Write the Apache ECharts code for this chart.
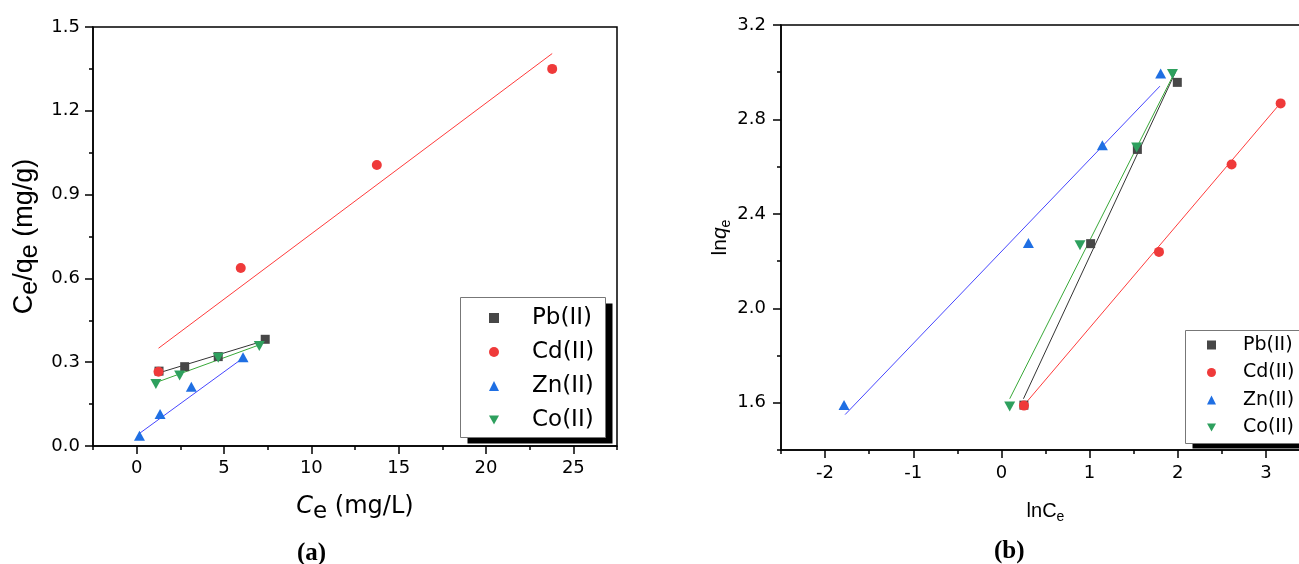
<!DOCTYPE html>
<html>
<head>
<meta charset="utf-8">
<title>Langmuir and Freundlich isotherm fits</title>
<script src="https://cdn.jsdelivr.net/npm/echarts@6/dist/echarts.min.js"></script>
<style>
  html, body { margin: 0; padding: 0; background: #fff; }
  #chart { width: 1299px; height: 564px; }
</style>
</head>
<body>
<div id="chart"></div>
<script>
// Metal ions shown in both panels
const ions = ['Pb(II)', 'Cd(II)', 'Zn(II)', 'Co(II)'];

// Panel (a): Ce (mg/L) against Ce/qe
const pbCe = [1.28, 2.75, 4.67, 7.36];
const pbCeQe = [0.268, 0.284, 0.320, 0.382];
const cdCe = [1.25, 5.96, 13.75, 23.79];
const cdCeQe = [0.266, 0.637, 1.006, 1.350];
const znCe = [0.16, 1.34, 3.13, 6.09];
const znCeQe = [0.037, 0.115, 0.212, 0.318];
const coCe = [1.10, 2.46, 4.67, 7.02];
const coCeQe = [0.222, 0.252, 0.316, 0.358];

// Panel (a) fitted lines: [x0, y0, x1, y1]
const pbFitA = [1.28, 0.262, 7.36, 0.378];
const cdFitA = [1.25, 0.350, 23.79, 1.405];
const znFitA = [0.16, 0.045, 6.09, 0.315];
const coFitA = [1.10, 0.227, 7.02, 0.362];

// Panel (b): lnCe against lnqe
const pbLnCe = [0.255, 1.012, 1.542, 1.995];
const pbLnQe = [1.590, 2.274, 2.673, 2.957];
const cdLnCe = [0.256, 1.787, 2.611, 3.167];
const cdLnQe = [1.588, 2.239, 2.609, 2.868];
const znLnCe = [-1.785, 0.306, 1.145, 1.806];
const znLnQe = [1.591, 2.277, 2.691, 2.995];
const coLnCe = [0.094, 0.891, 1.534, 1.940];
const coLnQe = [1.584, 2.267, 2.681, 2.992];

// Panel (b) fitted lines: [x0, y0, x1, y1]
const pbFitB = [0.250, 1.617, 1.976, 3.002];
const cdFitB = [0.256, 1.590, 3.167, 2.870];
const znFitB = [-1.773, 1.550, 1.798, 2.941];
const coFitB = [0.094, 1.617, 1.950, 2.988];

// Tick positions
const ticksAX = [0, 5, 10, 15, 20, 25];
const minorAX = [-2.5, 2.5, 7.5, 12.5, 17.5, 22.5, 27.5];
const ticksAY = [0, 0.3, 0.6, 0.9, 1.2, 1.5];
const minorAY = [0.15, 0.45, 0.75, 1.05, 1.35];
const ticksBX = [-2, -1, 0, 1, 2, 3];
const minorBX = [-2.5, -1.5, -0.5, 0.5, 1.5, 2.5, 3.5];
const ticksBY = [1.6, 2.0, 2.4, 2.8, 3.2];
const minorBY = [1.4, 1.8, 2.2, 2.6, 3.0];

const markerColors = ['#474747', '#ef3a3a', '#1f6fe3', '#2ea05e'];
const lineColors = ['#333333', '#ff3b3b', '#4646ff', '#38a838'];
const symbols = ['rect', 'circle', 'triangle', 'path://M0,0 L10,0 L5,9 Z'];
const symbolSizes = [9, 10, [11, 10], [11, 10]];

const FONT = '"Liberation Sans", Arial, sans-serif';
const WIDE = '"DejaVu Sans", Verdana, sans-serif';
const axisStroke = { color: '#000', width: 1.5 };

function pts(xs, ys) { return xs.map((x, i) => [x, ys[i]]); }
function seg(f) { return [[f[0], f[1]], [f[2], f[3]]]; }

function mainAxis(grid, min, max, ticks, fmt, margin, extra) {
  return Object.assign({
    type: 'value', gridIndex: grid, min: min, max: max,
    axisLine: { show: true, onZero: false, lineStyle: axisStroke },
    axisTick: { show: true, customValues: ticks, length: 8, lineStyle: axisStroke },
    axisLabel: { customValues: ticks, formatter: fmt, margin: margin, fontSize: 18, color: '#000', fontFamily: WIDE },
    splitLine: { show: false }
  }, extra);
}
function minorAxis(grid, min, max, ticks, extra) {
  return Object.assign({
    type: 'value', gridIndex: grid, min: min, max: max,
    axisLine: { show: false, onZero: false },
    axisTick: { show: true, customValues: ticks, length: 4, lineStyle: axisStroke },
    axisLabel: { show: false },
    splitLine: { show: false }
  }, extra);
}

const oneDecimal = v => v.toFixed(1);
const integer = v => String(Math.round(v));

const series = [];
const fitsA = [pbFitA, cdFitA, znFitA, coFitA];
const fitsB = [pbFitB, cdFitB, znFitB, coFitB];
const dataA = [pts(pbCe, pbCeQe), pts(cdCe, cdCeQe), pts(znCe, znCeQe), pts(coCe, coCeQe)];
const dataB = [pts(pbLnCe, pbLnQe), pts(cdLnCe, cdLnQe), pts(znLnCe, znLnQe), pts(coLnCe, coLnQe)];

// fitted lines first so the markers sit on top
[[fitsA, 0], [fitsB, 2]].forEach(([fits, ax]) => {
  fits.forEach((f, i) => {
    series.push({
      type: 'line', name: ions[i] + ' fit', xAxisIndex: ax, yAxisIndex: ax,
      data: seg(f), showSymbol: false, symbol: 'none', silent: true,
      lineStyle: { color: lineColors[i], width: 1 }, z: 2
    });
  });
});
[[dataA, 0], [dataB, 2]].forEach(([sets, ax]) => {
  sets.forEach((d, i) => {
    series.push({
      type: 'scatter', name: ions[i], xAxisIndex: ax, yAxisIndex: ax,
      data: d, symbol: symbols[i], symbolSize: symbolSizes[i],
      itemStyle: { color: markerColors[i], opacity: 1 }, z: 3
    });
  });
});

const legendBase = {
  orient: 'vertical', data: ions,
  backgroundColor: 'transparent', borderWidth: 0,
  selectedMode: false
};

// legend frames with a solid drop shadow
function legendFrame(x, y, w, h, dx, dy) {
  return [
    { type: 'rect', z: 3, silent: true, shape: { x: x + dx, y: y + dy, width: w, height: h }, style: { fill: '#000' } },
    { type: 'rect', z: 3, silent: true, shape: { x: x, y: y, width: w, height: h }, style: { fill: '#fff', stroke: '#777', lineWidth: 1 } }
  ];
}

const chart = echarts.init(document.getElementById('chart'), null, { renderer: 'canvas' });
chart.setOption({
  animation: false,
  textStyle: { fontFamily: FONT, color: '#000' },
  grid: [
    { left: 93, top: 27, width: 524, height: 419, show: true, borderColor: '#000', borderWidth: 1.5, backgroundColor: 'transparent', containLabel: false, outerBoundsMode: 'none' },
    { left: 781, top: 25, width: 529, height: 425, show: true, borderColor: '#000', borderWidth: 1.5, backgroundColor: 'transparent', containLabel: false, outerBoundsMode: 'none' }
  ],
  xAxis: [
    mainAxis(0, -2.5, 27.5, ticksAX, integer, 13, {
      position: 'bottom',
      name: '{c|C}{e|e}{t| (mg/L)}', nameLocation: 'middle', nameGap: 47,
      nameTextStyle: { rich: {
        c: { fontSize: 24, fontStyle: 'italic', lineHeight: 28, color: '#000', fontFamily: WIDE },
        e: { fontSize: 23, lineHeight: 23, padding: [11, 0, 0, 0], color: '#000', fontFamily: WIDE },
        t: { fontSize: 24, lineHeight: 28, color: '#000', fontFamily: WIDE }
      } }
    }),
    minorAxis(0, -2.5, 27.5, minorAX, { position: 'bottom' }),
    mainAxis(1, -2.5, 3.5, ticksBX, integer, 14, {
      position: 'bottom',
      name: '{t|lnC}{e|e}', nameLocation: 'middle', nameGap: 50,
      nameTextStyle: { rich: {
        t: { fontSize: 20, lineHeight: 22, color: '#000', fontFamily: FONT },
        e: { fontSize: 14, lineHeight: 14, padding: [12, 0, 0, 0], color: '#000', fontFamily: FONT }
      } }
    }),
    minorAxis(1, -2.5, 3.5, minorBX, { position: 'bottom' })
  ],
  yAxis: [
    mainAxis(0, 0, 1.5, ticksAY, oneDecimal, 13, {
      position: 'left',
      name: '{c|C}{e|e}{c|/q}{e|e}{c| (mg/g)}', nameLocation: 'middle', nameGap: 52,
      nameTextStyle: { rich: {
        c: { fontSize: 27, lineHeight: 32, color: '#000', fontFamily: FONT },
        e: { fontSize: 25, lineHeight: 25, padding: [10, 0, 0, 0], color: '#000', fontFamily: FONT }
      } }
    }),
    minorAxis(0, 0, 1.5, minorAY, { position: 'left' }),
    mainAxis(1, 1.4, 3.2, ticksBY, oneDecimal, 15, {
      position: 'left',
      name: '{t|ln}{q|q}{e|e}', nameLocation: 'middle', nameGap: 46,
      nameTextStyle: { rich: {
        t: { fontSize: 21, lineHeight: 24, color: '#000', fontFamily: FONT },
        q: { fontSize: 21, lineHeight: 24, fontStyle: 'italic', color: '#000', fontFamily: FONT },
        e: { fontSize: 14, lineHeight: 14, padding: [13, 0, 0, 0], color: '#000', fontFamily: FONT }
      } }
    }),
    minorAxis(1, 1.4, 3.2, minorBY, { position: 'left' })
  ],
  legend: [
    Object.assign({}, legendBase, {
      left: 460, top: 298, itemWidth: 10, itemHeight: 10, itemGap: 10,
      padding: [8, 6, 5, 29],
      textStyle: { fontSize: 23, lineHeight: 24, padding: [0, 0, 0, 28], color: '#000', fontFamily: WIDE }
    }),
    Object.assign({}, legendBase, {
      left: 1185, top: 330, itemWidth: 9, itemHeight: 9, itemGap: 7.5,
      padding: [5, 12, 6, 22],
      textStyle: { fontSize: 19, lineHeight: 20, padding: [0, 0, 0, 22], color: '#000', fontFamily: WIDE }
    })
  ],
  graphic: [
    ...legendFrame(460.5, 297.5, 145, 140, 7, 6),
    ...legendFrame(1185.5, 330.5, 140, 113, 7, 5),
    { type: 'text', left: 297, top: 541, style: { text: '(a)', font: 'bold 25px "Liberation Serif", "Times New Roman", serif', fill: '#000' } },
    { type: 'text', left: 994, top: 539, style: { text: '(b)', font: 'bold 25px "Liberation Serif", "Times New Roman", serif', fill: '#000' } }
  ],
  series: series
});
</script>
</body>
</html>
